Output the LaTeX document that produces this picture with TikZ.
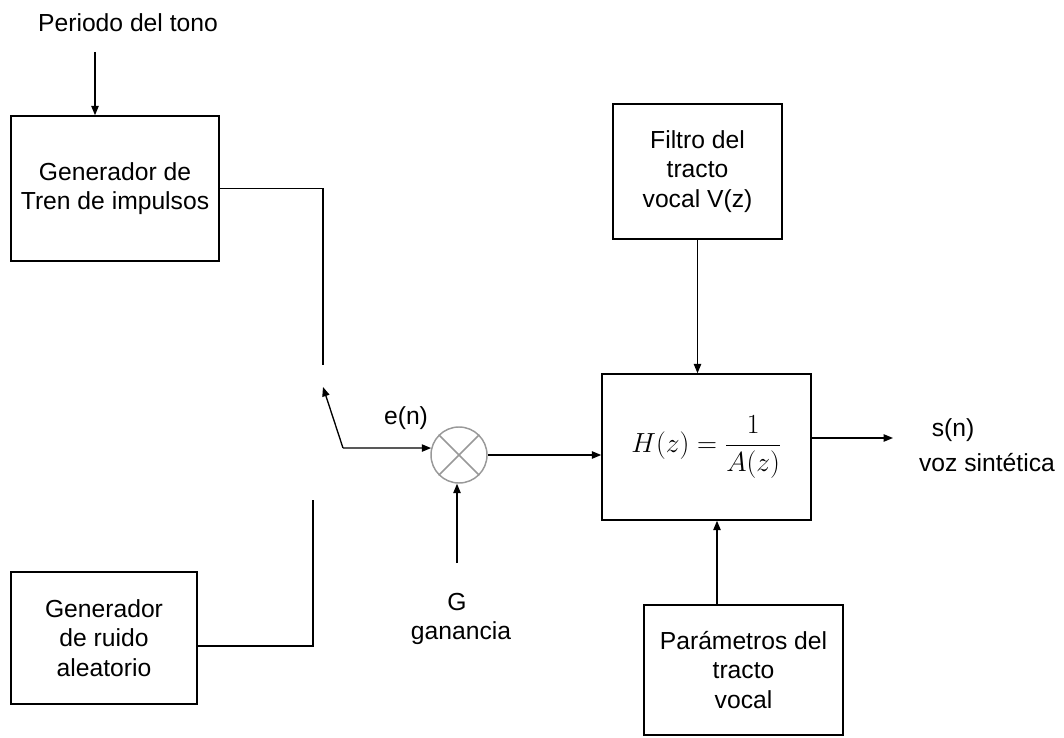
\documentclass[tikz,border=0pt]{standalone}
\usepackage{fontspec}
\setmainfont{Liberation Sans}
\usetikzlibrary{positioning,arrows.meta,calc}

\begin{document}
\begin{tikzpicture}[
    x=0.75pt, y=-0.75pt,
    font=\fontsize{18.5}{22}\selectfont,
    blk/.style 2 args={draw, line width=1.1pt, align=center, inner sep=0pt,
        minimum width=#1*0.75pt, minimum height=#2*0.75pt},
    lbl/.style={inner sep=0pt, align=center},
    line width=1pt,
    >={Triangle[length=7pt,width=5.5pt]}
]
\useasboundingbox (0,0) rectangle (1064,738);

\node[blk={208}{145}] (tren) at (115,188.5) {Generador de\\Tren de impulsos};
\node[blk={186}{132}] (ruido) at (104,638) {Generador\\de ruido\\aleatorio};
\node[blk={169}{135}] (filt) at (697.5,171.5) {Filtro del\\tracto\\vocal V(z)};
\node[blk={209}{146}, font=\fontsize{22}{26}\selectfont] (hz) at (706.5,447) {$\displaystyle H(z)=\frac{1}{A(z)}$};
\node[blk={199}{130}] (par) at (743.5,670) {Parámetros del\\tracto\\vocal};
\node[circle, draw=gray!80, line width=1.1pt, minimum size=56*0.75pt, inner sep=0pt] (mult) at (459,455) {};
\draw[gray!80, line width=1.1pt] (mult.45) -- (mult.225) (mult.135) -- (mult.315);

\node[lbl] (tono) at (128,23) {Periodo del tono};
\node[lbl] (en) at (406,418) {e(n)};
\node[lbl] (g) at (457,602) {G};
\node[lbl] (gan) at (461,633) {ganancia};
\node[lbl] (sn) at (953,430) {s(n)};
\node[lbl] (voz) at (987,463) {voz sintética};

\coordinate (tonoin) at (95,52);
\coordinate (uptop) at (323,365);
\coordinate (sw) at (343,448);
\coordinate (swtip) at (323,387);
\coordinate (lowtop) at (313,500);
\coordinate (gin) at (457,563);
\coordinate (parup) at (717,605);
\coordinate (out) at (893,438);

\draw[->] (tonoin) -- (tonoin |- tren.north);
\draw (tren.east) -| (uptop);
\draw ([yshift=-6pt]ruido.east) -| (lowtop);
\draw[->] (sw) -- (swtip);
\draw[->] (sw) -- (mult.166);
\draw[->] (gin) -- (gin |- mult.south);
\draw[->] (mult.east) -- (mult.east -| hz.west);
\draw[->] (filt.south) -- (filt.south |- hz.north);
\draw[->] (parup) -- (parup |- hz.south);
\draw[->] (out -| hz.east) -- (out);
\end{tikzpicture}
\end{document}
